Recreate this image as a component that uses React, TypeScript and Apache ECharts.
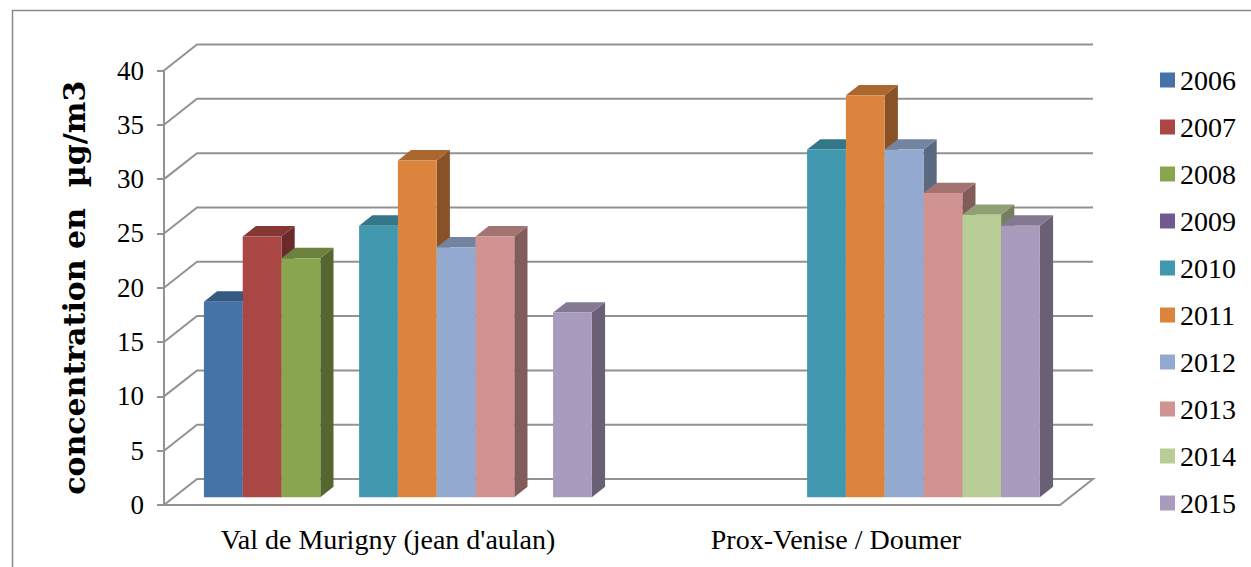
import React, { useEffect, useRef } from "react";
import * as echarts from "echarts";

// Sites (x categories)
const sites = ["Val de Murigny (jean d'aulan)", "Prox-Venise / Doumer"];

// Years (one series each)
const years = ["2006", "2007", "2008", "2009", "2010", "2011", "2012", "2013", "2014", "2015"];

// Annual concentrations per site, µg/m3 (null = no measurement)
const v2006 = [18, null];
const v2007 = [24, null];
const v2008 = [22, null];
const v2009 = [null, null];
const v2010 = [25, 32];
const v2011 = [31, 37];
const v2012 = [23, 32];
const v2013 = [24, 28];
const v2014 = [null, 26];
const v2015 = [17, 25];

const yearValues = [v2006, v2007, v2008, v2009, v2010, v2011, v2012, v2013, v2014, v2015];

const yearColors = [
  "#4572A7", "#AA4643", "#89A54E", "#71588F", "#4198AF",
  "#DB843D", "#93A9CF", "#D19392", "#B9CD96", "#A99BBD",
];

// Value axis ticks
const yTicks = [0, 5, 10, 15, 20, 25, 30, 35, 40];

// 3D projection of the depth axis (pixels)
const DEPTH_X = 33;
const DEPTH_Y = -26;
const BAR_FRONT = 0.3;
const BAR_BACK = 0.7;
const GROUP_FILL = 0.866;

const FONT = "'Liberation Serif', 'DejaVu Serif', serif";
const TITLE_FONT = "'DejaVu Serif', 'Liberation Serif', serif";

function shade(hex: string, k: number): string {
  const n = parseInt(hex.slice(1), 16);
  const r = Math.round(((n >> 16) & 255) * k);
  const g = Math.round(((n >> 8) & 255) * k);
  const b = Math.round((n & 255) * k);
  return `rgb(${r},${g},${b})`;
}

export default function App() {
  const ref = useRef<HTMLDivElement>(null);

  useEffect(() => {
    if (!ref.current) return;
    const chart = echarts.init(ref.current, null, { renderer: "svg" });

    const wallSeries = {
      type: "custom",
      name: "walls",
      silent: true,
      clip: false,
      z: 1,
      encode: { x: 0, y: 1 },
      data: yTicks.map((t) => [0, t]),
      renderItem: (params: any, api: any) => {
        const cs = params.coordSys;
        const x0 = cs.x;
        const x1 = cs.x + cs.width;
        const y = api.coord([0, api.value(1)])[1];
        const stroke = { stroke: "#929292", lineWidth: 2, fill: "none" };
        if (api.value(1) === 0) {
          return {
            type: "polygon",
            shape: {
              points: [
                [x0, y],
                [x1, y],
                [x1 + DEPTH_X, y + DEPTH_Y],
                [x0 + DEPTH_X, y + DEPTH_Y],
              ],
            },
            style: stroke,
          };
        }
        return {
          type: "polyline",
          shape: {
            points: [
              [x0, y],
              [x0 + DEPTH_X, y + DEPTH_Y],
              [x1 + DEPTH_X, y + DEPTH_Y],
            ],
          },
          style: stroke,
        };
      },
    };

    const barSeries = years.map((yr, i) => {
      const color = yearColors[i];
      const data = yearValues[i]
        .map((v, ci) => (v == null ? null : [ci, v]))
        .filter((d) => d !== null);
      return {
        type: "custom",
        name: yr,
        clip: false,
        z: 2,
        itemStyle: { color },
        encode: { x: 0, y: 1 },
        data,
        renderItem: (params: any, api: any) => {
          const ci = api.value(0);
          const v = api.value(1);
          if (v == null || isNaN(v)) return null;
          const bandW = api.size([1, 0])[0];
          const groupW = bandW * GROUP_FILL;
          const barW = groupW / years.length;
          const [cx, y0] = api.coord([ci, 0]);
          const yTop = api.coord([ci, v])[1];
          const fx = BAR_FRONT * DEPTH_X;
          const fy = BAR_FRONT * DEPTH_Y;
          const dx = (BAR_BACK - BAR_FRONT) * DEPTH_X;
          const dy = (BAR_BACK - BAR_FRONT) * DEPTH_Y;
          const x = cx - groupW / 2 + i * barW + fx;
          const top = yTop + fy;
          const base = y0 + fy;
          return {
            type: "group",
            children: [
              {
                type: "polygon",
                shape: {
                  points: [
                    [x + barW, top],
                    [x + barW + dx, top + dy],
                    [x + barW + dx, base + dy],
                    [x + barW, base],
                  ],
                },
                style: { fill: shade(color, 0.62) },
              },
              {
                type: "polygon",
                shape: {
                  points: [
                    [x, top],
                    [x + dx, top + dy],
                    [x + barW + dx, top + dy],
                    [x + barW, top],
                  ],
                },
                style: { fill: shade(color, 0.78) },
              },
              {
                type: "rect",
                shape: { x, y: top, width: barW, height: base - top },
                style: { fill: color },
              },
            ],
          };
        },
      };
    });

    chart.setOption({
      animation: false,
      backgroundColor: "#ffffff",
      graphic: [
        {
          type: "rect",
          left: 10,
          top: 8,
          shape: { x: 0, y: 0, width: 1300, height: 620 },
          style: { fill: "none", stroke: "#8a8a8a", lineWidth: 1.5 },
          silent: true,
        },
      ],
      legend: {
        orient: "vertical",
        left: 1155,
        top: 61,
        icon: "rect",
        itemWidth: 15,
        itemHeight: 15,
        itemGap: 19,
        data: years,
        textStyle: { fontFamily: FONT, fontSize: 28, color: "#000", lineHeight: 27 },
      },
      grid: { left: 164, right: 191, top: 70.5, bottom: 62, containLabel: false },
      xAxis: {
        type: "category",
        data: sites,
        axisLine: { show: false },
        axisTick: { show: false },
        axisLabel: {
          margin: 20,
          fontFamily: FONT,
          fontSize: 28,
          color: "#000",
        },
      },
      yAxis: {
        type: "value",
        min: 0,
        max: 40,
        interval: 5,
        name: "concentration en  µg/m3",
        nameLocation: "middle",
        nameGap: 75,
        nameTextStyle: {
          fontFamily: TITLE_FONT,
          fontSize: 30,
          fontWeight: "bold",
          color: "#000",
        },
        axisLine: { show: true, lineStyle: { color: "#929292", width: 2 } },
        axisTick: { show: true, length: 7, lineStyle: { color: "#929292", width: 2 } },
        axisLabel: { margin: 20, fontFamily: FONT, fontSize: 27, color: "#000" },
        splitLine: { show: false },
      },
      series: [wallSeries, ...barSeries],
    });

    return () => chart.dispose();
  }, []);

  return (
    <div
      ref={ref}
      style={{ position: "absolute", left: 0, top: 0, width: 1251, height: 567 }}
    />
  );
}
